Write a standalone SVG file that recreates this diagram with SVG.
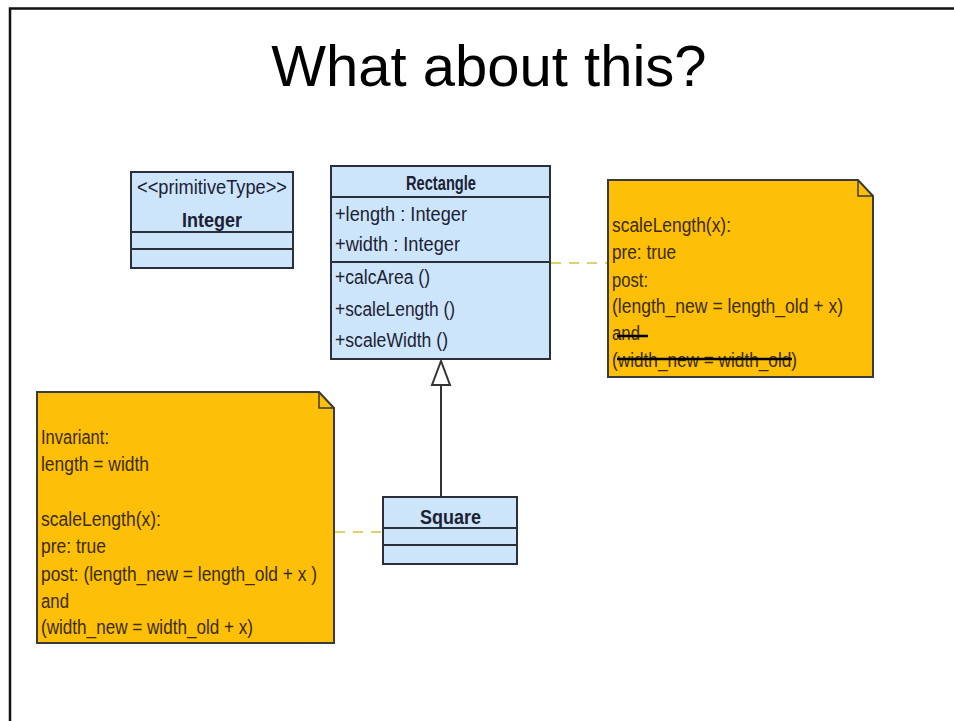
<svg xmlns="http://www.w3.org/2000/svg" width="954" height="721" viewBox="0 0 954 721">
  <defs>
    <style>
      .frame { fill: none; stroke: #111; stroke-width: 2.5; }
      .title { font-family: "Liberation Sans", Arial, sans-serif; font-size: 58px; fill: #000; text-anchor: middle; }
      .cls { fill: #cde5fb; stroke: #2b2f3a; stroke-width: 2; }
      .div { stroke: #2b2f3a; stroke-width: 2; }
      .note { fill: #fdbf07; stroke: #3a3a3a; stroke-width: 2; }
      .fold { fill: none; stroke: #3a3a3a; stroke-width: 1.5; }
      .t { font-family: "Liberation Sans", Arial, sans-serif; font-size: 20px; fill: #1c2233; }
      .tn { font-family: "Liberation Sans", Arial, sans-serif; font-size: 20px; fill: #3b2c05; }
      .b { font-weight: bold; }
      .strike { stroke: #000; stroke-width: 2.5; }
      .anchor { fill: none; stroke: #ddd36a; stroke-width: 2; stroke-dasharray: 10 8; }
      .gen { fill: none; stroke: #333; stroke-width: 2; }
      .head { fill: #fff; stroke: #333; stroke-width: 2; }
    </style>
  </defs>

  <rect width="954" height="721" fill="#fff"/>
  <!-- slide frame -->
  <path class="frame" d="M10,721 V8.5 H954"/>

  <text class="title" x="489" y="86">What about this?</text>

  <!-- connectors -->
  <g id="connectors">
    <line class="anchor" x1="551" y1="263" x2="607" y2="263"/>
    <line class="anchor" x1="335" y1="532" x2="382" y2="532"/>
    <line class="gen" x1="441" y1="385" x2="441" y2="497"/>
    <polygon class="head" points="441,361 432,385 450,385"/>
  </g>

  <!-- Integer primitive type -->
  <g id="integer">
    <rect class="cls" x="131" y="172" width="162" height="96"/>
    <line class="div" x1="131" y1="232" x2="293" y2="232"/>
    <line class="div" x1="131" y1="249" x2="293" y2="249"/>
    <text class="t" x="137" y="194" font-size="19" textLength="150" lengthAdjust="spacingAndGlyphs">&lt;&lt;primitiveType&gt;&gt;</text>
    <text class="t b" x="182" y="227" textLength="60" lengthAdjust="spacingAndGlyphs">Integer</text>
  </g>

  <!-- Rectangle class -->
  <g id="rectangle">
    <rect class="cls" x="331" y="166" width="219" height="193"/>
    <line class="div" x1="331" y1="197" x2="550" y2="197"/>
    <line class="div" x1="331" y1="262" x2="550" y2="262"/>
    <text class="t b" x="406" y="190" textLength="70" lengthAdjust="spacingAndGlyphs">Rectangle</text>
    <text class="t" x="335" y="221" textLength="132" lengthAdjust="spacingAndGlyphs">+length  : Integer</text>
    <text class="t" x="335" y="251" textLength="125" lengthAdjust="spacingAndGlyphs">+width  : Integer</text>
    <text class="t" x="335" y="284" textLength="95" lengthAdjust="spacingAndGlyphs">+calcArea ()</text>
    <text class="t" x="335" y="316" textLength="120" lengthAdjust="spacingAndGlyphs">+scaleLength ()</text>
    <text class="t" x="335" y="347" textLength="113" lengthAdjust="spacingAndGlyphs">+scaleWidth ()</text>
  </g>

  <!-- Square class -->
  <g id="square">
    <rect class="cls" x="383" y="497" width="134" height="67"/>
    <line class="div" x1="383" y1="528" x2="517" y2="528"/>
    <line class="div" x1="383" y1="545" x2="517" y2="545"/>
    <text class="t b" x="420" y="524" textLength="61" lengthAdjust="spacingAndGlyphs">Square</text>
  </g>

  <!-- Rectangle contract note -->
  <g id="note-rectangle">
    <path class="note" d="M608,180 H858 L873,196 V377 H608 Z"/>
    <path class="fold" d="M858,180 V196 H873"/>
    <text class="tn" x="612" y="232" textLength="119" lengthAdjust="spacingAndGlyphs">scaleLength(x):</text>
    <text class="tn" x="612" y="259" textLength="64" lengthAdjust="spacingAndGlyphs">pre: true</text>
    <text class="tn" x="612" y="287" textLength="36" lengthAdjust="spacingAndGlyphs">post:</text>
    <text class="tn" x="612" y="313" textLength="231" lengthAdjust="spacingAndGlyphs">(length_new = length_old + x)</text>
    <text class="tn" x="612" y="340" textLength="28" lengthAdjust="spacingAndGlyphs">and</text>
    <text class="tn" x="612" y="367" textLength="185" lengthAdjust="spacingAndGlyphs">(width_new = width_old)</text>
    <line class="strike" x1="617" y1="336" x2="648" y2="336"/>
    <line class="strike" x1="617" y1="359" x2="792" y2="359"/>
  </g>

  <!-- Square contract note -->
  <g id="note-square">
    <path class="note" d="M37,392 H319 L334,408 V643 H37 Z"/>
    <path class="fold" d="M319,392 V408 H334"/>
    <text class="tn" x="41" y="444" textLength="68" lengthAdjust="spacingAndGlyphs">Invariant:</text>
    <text class="tn" x="41" y="471" textLength="108" lengthAdjust="spacingAndGlyphs">length = width</text>
    <text class="tn" x="41" y="526" textLength="120" lengthAdjust="spacingAndGlyphs">scaleLength(x):</text>
    <text class="tn" x="41" y="553" textLength="65" lengthAdjust="spacingAndGlyphs">pre: true</text>
    <text class="tn" x="41" y="581" textLength="276" lengthAdjust="spacingAndGlyphs">post: (length_new = length_old + x )</text>
    <text class="tn" x="41" y="608" textLength="28" lengthAdjust="spacingAndGlyphs">and</text>
    <text class="tn" x="41" y="634" textLength="212" lengthAdjust="spacingAndGlyphs">(width_new = width_old + x)</text>
  </g>
</svg>
